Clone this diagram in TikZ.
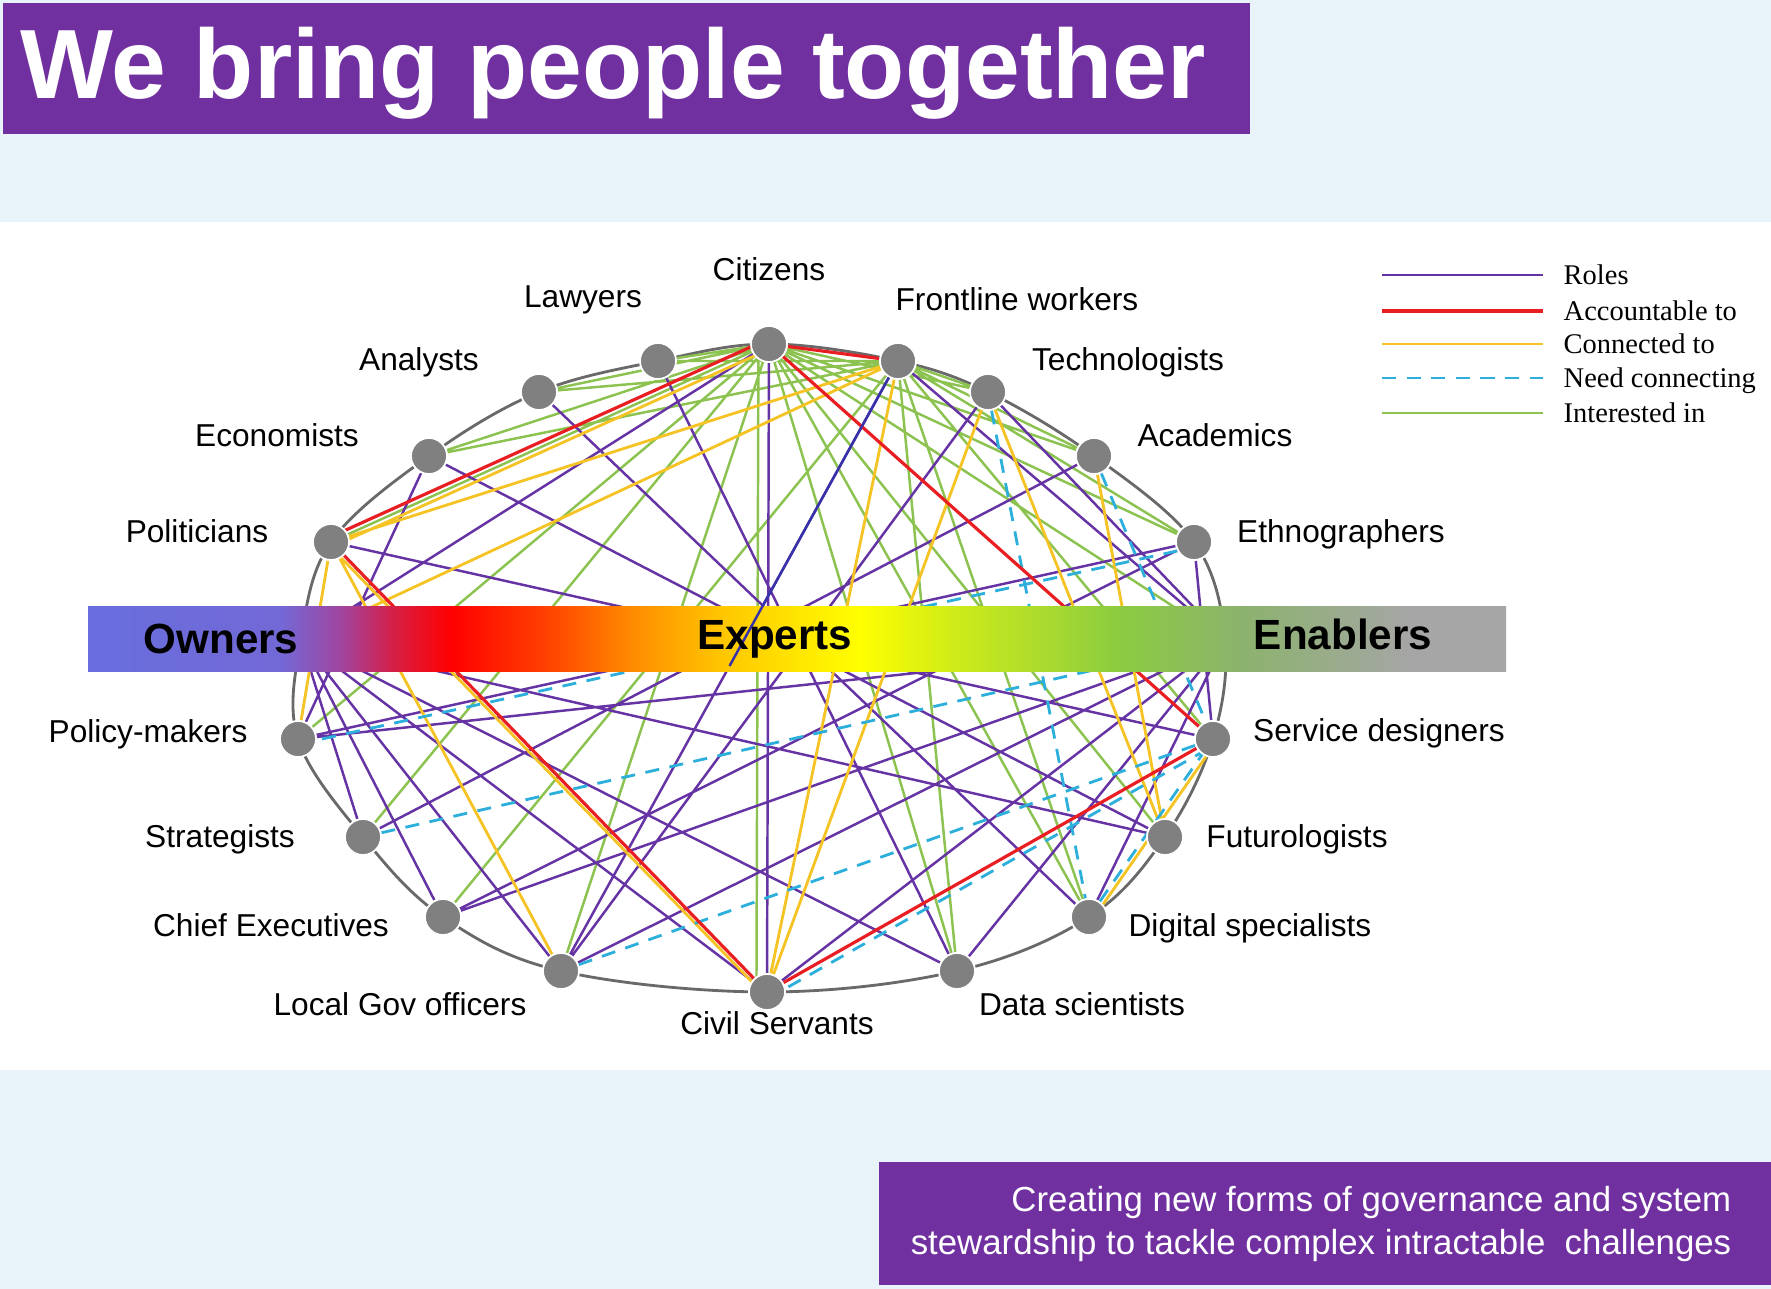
\documentclass[tikz,border=0pt]{standalone}
\usepackage{fontspec}
\setmainfont{Liberation Sans}
\newfontfamily\legendfont{Liberation Serif}
\usepackage{tikz}
\usetikzlibrary{calc}

\pgfdeclarelayer{back}
\pgfdeclarelayer{links}
\pgfdeclarelayer{front}
\pgfsetlayers{back,links,main,front}

\definecolor{boxpurple}{RGB}{112,48,160}
\definecolor{paleblue}{RGB}{233,243,250}
\definecolor{rolecol}{RGB}{102,51,165}
\definecolor{darkrole}{RGB}{55,50,170}
\definecolor{acccol}{RGB}{232,30,35}
\definecolor{concol}{RGB}{245,195,35}
\definecolor{needcol}{RGB}{45,175,220}
\definecolor{intcol}{RGB}{140,195,80}
\definecolor{dotgrey}{RGB}{128,128,128}
\definecolor{rimgrey}{RGB}{105,105,105}

\pgfdeclarehorizontalshading{barshade}{100bp}{rgb(0bp)=(0.41,0.43,0.87);
	rgb(25bp)=(0.41,0.43,0.87); rgb(31.8bp)=(0.45,0.41,0.84); rgb(33.9bp)=(0.63,0.27,0.63);
	rgb(35.8bp)=(0.84,0.12,0.27); rgb(37.8bp)=(1,0,0); rgb(41bp)=(1,0.24,0);
	rgb(44.2bp)=(1,0.55,0); rgb(47.4bp)=(1,0.78,0); rgb(52.2bp)=(1,1,0);
	rgb(55.7bp)=(0.8,0.92,0.1); rgb(61.3bp)=(0.55,0.8,0.25); rgb(65.7bp)=(0.55,0.7,0.43);
	rgb(71.7bp)=(0.65,0.65,0.65); rgb(75bp)=(0.65,0.65,0.65); rgb(100bp)=(0.65,0.65,0.65)}

\tikzset{
	dot/.style={circle,fill=dotgrey,draw=white,line width=0.5pt,minimum size=3.6mm,inner sep=0pt},
	lbl/.style={anchor=base,inner sep=0pt,font=\fontsize{9}{11}\selectfont},
	bandlbl/.style={anchor=base,inner sep=0pt,font=\fontsize{12}{14}\selectfont\bfseries},
	legtext/.style={anchor=base west,inner sep=0pt,font=\legendfont\fontsize{8.1}{10}\selectfont},
	roles/.style={rolecol,line width=0.7pt},
	accountable/.style={acccol,line width=0.9pt},
	connected/.style={concol,line width=0.8pt},
	needconn/.style={needcol,line width=0.8pt,dash pattern=on 4pt off 3pt},
	interested/.style={intcol,line width=0.7pt}
}

\begin{document}
\begin{tikzpicture}[x=0.01cm,y=-0.01cm]
	\useasboundingbox (0,0) rectangle (1771,1289);
	\begin{pgfonlayer}{back}
		\fill[paleblue] (0,0) rectangle (1771,1289);
		\fill[white] (0,222) rectangle (1771,1070);
	\end{pgfonlayer}

	\fill[boxpurple] (3,3) rectangle (1250,134);
	\node[anchor=base west,inner sep=0pt,text=white,font=\fontsize{28}{32}\selectfont\bfseries] (title) at (20,99) {We bring people together};

	% the people round the ring
	\coordinate (own) at (301,640);
	\coordinate (ena) at (1225,640);
	\node[dot] (cit) at (769,344) {};
	\node[dot] (law) at (658,361) {};
	\node[dot] (ana) at (539,392) {};
	\node[dot] (eco) at (429,456) {};
	\node[dot] (pol) at (331,542) {};
	\node[dot] (pm) at (298,739) {};
	\node[dot] (str) at (363,837) {};
	\node[dot] (ce) at (443,917) {};
	\node[dot] (lg) at (561,971) {};
	\node[dot] (cs) at (767,992) {};
	\node[dot] (ds) at (957,971) {};
	\node[dot] (dig) at (1089,917) {};
	\node[dot] (fut) at (1165,837) {};
	\node[dot] (sd) at (1213,739) {};
	\node[dot] (eth) at (1194,542) {};
	\node[dot] (aca) at (1094,456) {};
	\node[dot] (tec) at (988,392) {};
	\node[dot] (fro) at (898,361) {};

	\node[lbl] (cit-l) at (769,281) {Citizens};
	\node[lbl] (law-l) at (583,308) {Lawyers};
	\node[lbl] (fro-l) at (1017,311) {Frontline workers};
	\node[lbl] (ana-l) at (419,371) {Analysts};
	\node[lbl] (tec-l) at (1128,371) {Technologists};
	\node[lbl] (eco-l) at (277,447) {Economists};
	\node[lbl] (aca-l) at (1215,447) {Academics};
	\node[lbl] (pol-l) at (197,543) {Politicians};
	\node[lbl] (eth-l) at (1341,543) {Ethnographers};
	\node[lbl] (pm-l) at (148,743) {Policy-makers};
	\node[lbl] (sd-l) at (1379,742) {Service designers};
	\node[lbl] (str-l) at (220,848) {Strategists};
	\node[lbl] (fut-l) at (1297,848) {Futurologists};
	\node[lbl] (ce-l) at (271,937) {Chief Executives};
	\node[lbl] (dig-l) at (1250,937) {Digital specialists};
	\node[lbl] (lg-l) at (400,1016) {Local Gov officers};
	\node[lbl] (ds-l) at (1082,1016) {Data scientists};
	\node[lbl] (cs-l) at (777,1035) {Civil Servants};

	\begin{pgfonlayer}{links}
		\draw[rimgrey,line width=0.8pt] plot[smooth cycle,tension=0.6] coordinates {(cit.center) (fro.center) (tec.center) (aca.center) (eth.center) (ena) (sd.center) (fut.center) (dig.center) (ds.center) (cs.center) (lg.center) (ce.center) (str.center) (pm.center) (own) (pol.center) (eco.center) (ana.center) (law.center)};
		\draw[interested] (cit)--(law) (cit)--(ana) (cit)--(eco) (cit)--(pol) (cit)--(pm) (cit)--(str) (cit)--(lg)
			([xshift=-3pt]cit.center)--([xshift=-3pt]cs.center) (cit)--(ds) (cit)--(dig) (cit)--(fut) (cit)--(ena)
			(cit)--(eth) (cit)--(aca) (cit)--(tec)
			(fro)--(law) (fro)--(ana) (fro)--(eco) (fro)--(tec) (fro)--(aca) (fro)--(eth) (fro)--(sd)
			(fro)--(ds) (fro)--(dig) (fro)--(ce);
		\draw[roles] (cit)--(own) (cit)--(cs) (law)--(ds) (ana)--(dig) (eco)--(fut) (eco)--(pm) (pol)--(sd)
			(tec)--(lg) (tec)--(ena) (aca)--(str) (fro)--(ena) (eth)--(sd) (pm)--(ena) (pm)--(eth) (ce)--(eth)
			(own)--(str) (own)--(ce) (own)--(lg) (own)--(cs) (own)--(ds) (own)--(fut)
			(ce)--(ena) (lg)--(ena) (cs)--(ena) (ds)--(ena) (dig)--(ena) (fro)--(lg);
		\draw[connected] ([yshift=-1.5pt]pol.center)--([yshift=-1.5pt]cit.center) (pol)--(fro) (own)--(fro)
			([xshift=-1.5pt]pol.center)--([xshift=-1.5pt]cs.center) (pol)--(lg) (pol)--(pm) (tec)--(cs) (fro)--(cs)
			(tec)--(fut) (aca)--(fut) ([xshift=1.5pt]sd.center)--([xshift=1.5pt]dig.center);
		\draw[needconn] (tec)--(dig) (aca)--(sd) ([yshift=-1.5pt]pm.center)--([yshift=-1.5pt]eth.center) (str)--(ena)
			(lg)--(sd) ([yshift=-2pt]cs.center)--([yshift=-2pt]sd.center) (dig)--(sd);
		\draw[accountable] ([yshift=1.5pt]pol.center)--([yshift=1.5pt]cit.center) (cit)--(fro) (cit)--(sd)
			(pol)--(cs) (cs)--(sd);
	\end{pgfonlayer}

	\shade[shading=barshade] (88,607) rectangle (1506,672);
	\begin{pgfonlayer}{front}
		\draw[darkrole,line width=0.7pt] (fro) -- ($(fro.center)!0.5!(lg.center)$);
		\node[bandlbl] (owners) at (221,654) {Owners};
		\node[bandlbl] (experts) at (775,650) {Experts};
		\node[bandlbl] (enablers) at (1343,650) {Enablers};
	\end{pgfonlayer}

	% legend
	\draw[roles] (1382,275) -- (1543,275);
	\draw[accountable] (1382,311) -- (1543,311);
	\draw[connected] (1382,344) -- (1543,344);
	\draw[needconn] (1382,378) -- (1543,378);
	\draw[interested] (1382,413) -- (1543,413);
	\node[legtext] (leg-roles) at (1563,285) {Roles};
	\node[legtext] (leg-acc) at (1563,321) {Accountable to};
	\node[legtext] (leg-con) at (1563,354) {Connected to};
	\node[legtext] (leg-need) at (1563,388) {Need connecting};
	\node[legtext] (leg-int) at (1563,423) {Interested in};

	\fill[boxpurple] (879,1162) rectangle (1771,1285);
	\node[anchor=north east,inner sep=0pt,align=right,text=white,font=\fontsize{9.9}{12.2}\selectfont] (tagline) at (1732,1186) {Creating new forms of governance and system\\stewardship to tackle complex intractable\ \ challenges};
\end{tikzpicture}
\end{document}
